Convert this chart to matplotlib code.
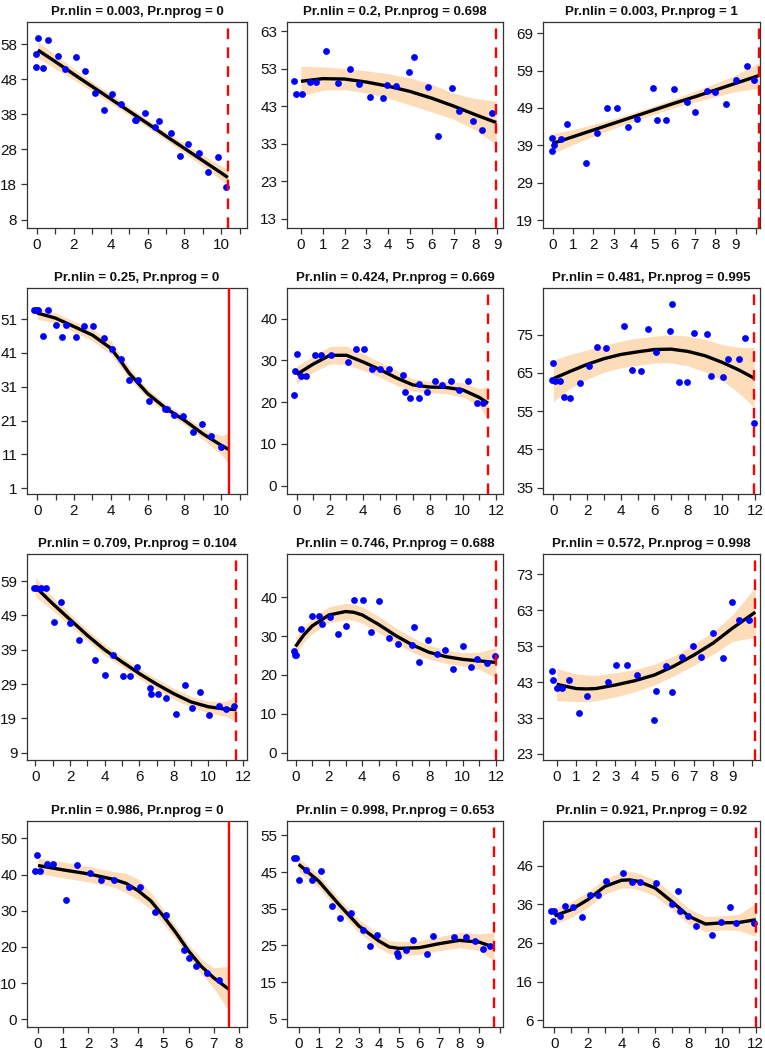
import matplotlib
matplotlib.use("Agg")
import matplotlib.pyplot as plt

# ---- data ----
titles = ["Pr.nlin = 0.003, Pr.nprog = 0", "Pr.nlin = 0.2, Pr.nprog = 0.698",
          "Pr.nlin = 0.003, Pr.nprog = 1", "Pr.nlin = 0.25, Pr.nprog = 0",
          "Pr.nlin = 0.424, Pr.nprog = 0.669", "Pr.nlin = 0.481, Pr.nprog = 0.995",
          "Pr.nlin = 0.709, Pr.nprog = 0.104", "Pr.nlin = 0.746, Pr.nprog = 0.688",
          "Pr.nlin = 0.572, Pr.nprog = 0.998", "Pr.nlin = 0.986, Pr.nprog = 0",
          "Pr.nlin = 0.998, Pr.nprog = 0.653", "Pr.nlin = 0.921, Pr.nprog = 0.92"]

# panel 1
x1 = [-0.05, 0.05, -0.05, 0.31, 0.58, 1.12, 1.5, 2.13, 2.6, 3.13, 3.62, 4.1, 4.54, 5.32, 5.36,
      5.84, 6.38, 6.64, 7.25, 7.76, 8.19, 8.79, 9.29, 9.84, 10.27]
y1 = [55.3, 59.6, 51.5, 51.3, 59.3, 54.7, 50.8, 54.2, 50.4, 44.0, 39.1, 43.7, 41.0, 36.5, 36.5,
      38.4, 34.4, 36.2, 32.6, 26.2, 29.6, 27.0, 21.6, 25.9, 17.4]
fx1 = [0.05, 1, 2, 3, 4, 5, 6, 7, 8, 9, 10, 10.36]
fy1 = [56.3, 53.0, 49.4, 45.9, 42.4, 38.9, 35.4, 31.8, 28.3, 24.8, 21.3, 20.0]
hi1 = [58.6, 55.0, 51.0, 47.3, 43.7, 40.1, 36.5, 33.0, 29.7, 26.4, 23.3, 22.3]
lo1 = [54.0, 51.0, 47.8, 44.5, 41.1, 37.7, 34.3, 30.6, 26.9, 23.2, 19.3, 17.7]

# panel 2
x2 = [-0.3, -0.21, 0.05, 0.4, 0.7, 1.17, 1.68, 2.24, 2.68, 3.17, 3.78, 3.93, 4.38, 4.95, 5.2,
      5.85, 6.27, 6.92, 7.24, 7.88, 8.32, 8.78]
y2 = [49.8, 46.2, 46.2, 49.5, 49.4, 57.6, 49.1, 52.8, 48.9, 45.4, 45.2, 48.5, 48.4, 52.0, 56.2,
      48.0, 35.0, 47.7, 41.6, 38.9, 36.6, 41.2]
fx2 = [0, 1, 2, 3, 4, 5, 6, 7, 8, 8.96]
fy2 = [49.6, 50.3, 50.2, 49.4, 48.3, 46.9, 45.1, 43.0, 40.7, 38.6]
hi2 = [53.6, 53.4, 53.0, 52.4, 51.6, 50.5, 48.8, 46.4, 45.0, 44.3]
lo2 = [45.7, 47.2, 47.4, 46.5, 45.1, 43.3, 41.4, 39.5, 36.6, 32.8]

# panel 3
x3 = [-0.02, -0.02, 0.08, 0.43, 0.7, 1.65, 2.18, 2.7, 3.17, 3.7, 4.17, 4.95, 5.13, 5.6, 5.97,
      6.63, 7.02, 7.58, 7.97, 8.52, 9.0, 9.58, 9.9]
y3 = [40.9, 37.4, 39.0, 40.7, 44.7, 34.2, 42.2, 49.0, 48.9, 43.9, 46.1, 54.3, 45.8, 45.7, 54.0,
      50.7, 47.9, 53.6, 53.4, 50.2, 56.5, 60.2, 56.4]
fx3 = [0, 1, 2, 3, 4, 5, 6, 7, 8, 9, 10, 10.15]
fy3 = [39.5, 41.3, 43.1, 44.9, 46.7, 48.5, 50.3, 52.0, 53.8, 55.6, 57.4, 57.7]
hi3 = [42.2, 43.2, 44.6, 46.1, 47.8, 49.6, 51.5, 53.5, 55.6, 57.8, 60.6, 61.4]
lo3 = [36.8, 39.2, 41.4, 43.5, 45.5, 47.3, 49.1, 50.6, 52.0, 53.4, 54.2, 54.0]

# panel 4
x4 = [-0.15, -0.04, 0.05, 0.31, 0.58, 1.04, 1.37, 1.55, 2.12, 2.54, 3.01, 3.61, 4.07, 4.53, 5.0,
      5.49, 6.09, 6.95, 7.06, 7.46, 7.92, 8.47, 8.96, 9.45, 10.0]
y4 = [53.8, 53.8, 53.8, 45.9, 53.7, 49.4, 45.7, 49.3, 45.6, 49.0, 49.0, 45.3, 42.1, 39.3, 32.9,
      32.9, 26.8, 24.5, 24.5, 22.6, 22.5, 17.5, 20.0, 16.4, 13.3]
fx4 = [0, 1, 2, 3, 4, 4.5, 5, 5.5, 6, 7, 8, 9, 10, 10.4]
fy4 = [52.8, 51.3, 48.8, 46.3, 42.4, 38.9, 35.0, 32.0, 29.0, 24.6, 21.1, 17.1, 13.7, 12.5]
hi4 = [54.6, 52.8, 50.4, 48.0, 44.6, 40.8, 36.8, 33.5, 30.4, 25.9, 22.4, 18.7, 16.5, 17.4]
lo4 = [51.0, 49.8, 47.2, 44.6, 40.6, 37.0, 33.2, 30.5, 27.6, 23.3, 19.8, 15.5, 11.0, 8.2]

# panel 5
x5 = [-0.14, -0.1, 0.04, 0.26, 0.54, 1.11, 1.47, 2.05, 3.08, 3.56, 4.04, 4.54, 5.0, 5.55, 6.43,
      6.51, 6.8, 7.34, 7.34, 7.82, 8.32, 8.74, 9.27, 9.75, 10.31, 10.83, 11.24]
y5 = [21.7, 27.4, 31.5, 26.2, 26.2, 31.3, 31.3, 31.2, 29.6, 32.6, 32.6, 28.0, 27.9, 27.8, 26.5,
      22.5, 21.0, 24.3, 21.0, 22.4, 25.1, 24.0, 25.1, 23.0, 25.0, 19.8, 19.8]
fx5 = [0, 1, 2, 3, 4, 5, 6, 7, 8, 9, 10, 11, 11.52]
fy5 = [26.6, 29.1, 31.2, 31.2, 29.6, 27.8, 25.8, 24.1, 23.6, 23.5, 22.9, 21.1, 19.7]
hi5 = [28.6, 31.0, 33.3, 33.4, 31.6, 29.6, 27.6, 25.6, 25.0, 25.0, 24.6, 23.2, 23.8]
lo5 = [24.4, 27.2, 29.1, 29.0, 27.6, 26.0, 24.0, 22.6, 22.2, 22.0, 21.2, 19.0, 15.8]

# panel 6
x6 = [-0.06, -0.02, 0.1, 0.38, 0.6, 1.01, 1.6, 2.12, 2.6, 3.13, 4.17, 4.68, 5.2, 5.65, 6.09,
      6.94, 7.06, 7.48, 7.92, 8.37, 9.11, 9.38, 10.1, 10.4, 11.01, 11.41, 11.9]
y6 = [63.0, 67.6, 62.9, 62.9, 58.7, 58.5, 62.3, 66.7, 71.8, 71.5, 77.2, 65.7, 65.6, 76.5, 70.4,
      76.0, 82.9, 62.6, 62.5, 75.4, 75.1, 64.1, 63.9, 68.7, 68.6, 74.2, 51.9]
fx6 = [0, 1, 2, 3, 4, 5, 6, 7, 8, 9, 10, 11, 11.94]
fy6 = [63.5, 65.4, 67.2, 68.7, 69.8, 70.5, 71.1, 71.2, 70.6, 69.5, 67.8, 65.8, 63.6]
hi6 = [68.4, 69.8, 71.0, 72.2, 73.3, 74.1, 74.6, 74.9, 74.6, 73.8, 72.4, 71.7, 71.6]
lo6 = [57.5, 61.0, 63.3, 65.2, 66.3, 66.9, 67.6, 67.6, 66.8, 65.3, 63.1, 59.8, 56.0]

# panel 7
x7 = [-0.1, 0.04, 0.31, 0.6, 1.07, 1.5, 1.98, 2.54, 3.46, 4.0, 4.5, 5.05, 5.49, 5.88, 6.64,
      6.7, 7.09, 7.57, 8.1, 8.62, 9.05, 9.53, 10.04, 10.62, 11.03, 11.48]
y7 = [57.1, 57.1, 57.0, 56.9, 47.1, 53.0, 46.9, 41.8, 36.1, 31.7, 37.6, 31.5, 31.5, 34.1, 28.0,
      26.0, 26.0, 25.1, 20.2, 28.8, 22.0, 26.6, 20.1, 22.6, 21.8, 22.5]
fx7 = [0, 1, 2, 3, 4, 5, 6, 7, 8, 9, 10, 11, 11.61]
fy7 = [57.3, 52.4, 47.8, 43.2, 39.0, 35.5, 32.1, 29.0, 26.2, 23.8, 22.4, 21.7, 21.6]
hi7 = [60.0, 54.4, 49.5, 44.8, 40.6, 37.0, 33.6, 30.6, 27.8, 25.4, 24.0, 24.0, 25.5]
lo7 = [54.5, 50.4, 46.1, 41.6, 37.4, 34.0, 30.6, 27.4, 24.6, 22.2, 20.6, 19.6, 18.0]

# panel 8
x8 = [-0.08, -0.06, 0.04, 0.32, 1.01, 1.43, 1.58, 2.08, 2.53, 3.05, 3.49, 4.06, 4.5, 4.99, 5.58,
      6.12, 6.97, 7.11, 7.41, 7.94, 8.48, 8.97, 9.41, 10.0, 10.48, 10.89, 11.44, 11.92]
y8 = [26.2, 25.2, 25.1, 31.7, 35.2, 35.1, 33.2, 35.0, 30.6, 32.5, 39.2, 39.2, 31.1, 39.1, 29.4,
      28.0, 27.8, 32.4, 23.3, 29.1, 25.3, 26.4, 21.4, 27.4, 22.1, 24.0, 23.0, 24.9]
fx8 = [0, 0.5, 1, 2, 3, 3.5, 4, 5, 6, 7, 8, 9, 10, 11, 12]
fy8 = [27.3, 30.3, 32.6, 35.4, 36.3, 36.1, 35.4, 32.9, 30.1, 27.7, 25.8, 24.7, 24.0, 23.6, 23.2]
hi8 = [29.6, 32.2, 34.6, 37.5, 38.4, 38.2, 37.5, 35.0, 32.1, 29.6, 27.6, 26.4, 25.7, 25.8, 27.0]
lo8 = [25.0, 28.4, 30.6, 33.4, 34.2, 34.0, 33.3, 30.8, 28.1, 25.8, 24.0, 23.0, 22.3, 21.4, 19.3]

# panel 9
x9 = [-0.24, -0.19, 0.02, 0.29, 0.63, 1.14, 1.53, 2.6, 3.04, 3.61, 4.1, 4.97, 5.09, 5.58, 5.88,
      6.38, 6.99, 7.36, 8.0, 8.52, 8.94, 9.34, 9.85]
y9 = [46.1, 43.6, 41.5, 41.4, 43.5, 34.4, 39.2, 43.1, 47.9, 47.8, 45.0, 32.4, 40.5, 47.4, 40.3,
      50.1, 53.2, 49.9, 56.6, 49.7, 65.2, 60.4, 60.2]
fx9 = [0, 1, 1.5, 2, 3, 4, 5, 6, 7, 8, 9, 10.15]
fy9 = [42.4, 41.2, 41.1, 41.2, 42.2, 43.4, 45.0, 47.5, 50.5, 53.9, 58.1, 62.5]
hi9 = [46.8, 45.3, 45.0, 44.9, 45.6, 46.5, 48.0, 50.3, 53.5, 57.0, 61.8, 69.5]
lo9 = [37.8, 37.6, 37.6, 37.8, 38.9, 40.3, 42.2, 44.8, 47.6, 50.8, 54.4, 55.5]

# panel 10
x10 = [-0.12, -0.05, 0.08, 0.35, 0.6, 1.12, 1.57, 2.07, 2.51, 3.03, 3.61, 4.07, 4.65, 5.09,
       5.81, 6.0, 6.29, 6.73, 7.23]
y10 = [41.0, 45.3, 41.0, 42.9, 42.9, 32.9, 42.6, 40.5, 38.6, 38.5, 36.6, 36.6, 29.8, 28.8,
       19.2, 16.9, 14.7, 12.9, 11.0]
fx10 = [0, 1, 2, 3, 3.5, 4, 4.5, 5, 5.5, 6, 6.5, 7, 7.61]
fy10 = [42.5, 41.3, 40.2, 38.7, 37.6, 35.5, 32.7, 28.5, 23.9, 18.9, 14.7, 11.5, 8.3]
hi10 = [44.6, 43.5, 42.3, 40.8, 40.4, 38.7, 35.0, 30.4, 25.7, 20.7, 16.7, 14.3, 14.6]
lo10 = [40.3, 39.1, 38.0, 36.6, 35.0, 33.0, 30.3, 26.4, 22.0, 17.1, 12.6, 8.7, 2.3]

# panel 11
x11 = [-0.22, -0.12, 0.02, 0.35, 0.67, 1.1, 1.68, 2.05, 2.6, 3.18, 3.55, 3.9, 4.87, 4.93, 5.32,
       5.7, 6.38, 6.7, 7.75, 8.32, 8.78, 9.15, 9.5]
y11 = [48.9, 48.9, 42.9, 45.5, 42.7, 45.4, 35.8, 32.4, 33.9, 29.3, 24.9, 27.9, 22.9, 22.0, 23.8,
       26.5, 22.7, 27.5, 27.3, 27.3, 26.1, 24.0, 24.9]
fx11 = [0, 1, 2, 3, 4, 4.5, 5, 6, 7, 8, 9, 9.72]
fy11 = [47.1, 42.5, 36.2, 30.3, 26.2, 24.6, 24.2, 24.4, 25.5, 26.4, 25.9, 24.5]
hi11 = [48.9, 44.2, 37.9, 32.1, 28.0, 26.4, 26.1, 26.3, 27.4, 28.6, 28.2, 28.6]
lo11 = [45.1, 40.7, 34.4, 28.5, 24.3, 22.8, 22.4, 22.5, 23.6, 24.4, 23.6, 20.7]

# panel 12
x12 = [-0.18, 0.0, -0.06, 0.34, 0.66, 1.11, 1.63, 2.15, 2.62, 3.08, 4.06, 4.63, 5.09, 6.04,
       6.98, 7.34, 7.46, 7.97, 8.41, 9.38, 9.94, 10.44, 10.84, 11.91]
y12 = [34.2, 34.2, 31.8, 32.9, 35.5, 35.4, 32.6, 38.4, 38.4, 42.1, 44.0, 41.8, 41.7, 41.5,
       36.0, 39.3, 34.3, 32.9, 30.4, 28.1, 31.3, 35.4, 31.2, 31.1]
fx12 = [0, 1, 2, 3, 4, 4.5, 5, 6, 7, 8, 9, 10, 11, 12]
fy12 = [33.0, 34.6, 37.2, 40.6, 42.2, 42.3, 41.9, 40.2, 36.7, 32.9, 30.9, 31.2, 31.3, 32.0]
hi12 = [35.0, 36.6, 39.2, 42.6, 44.3, 44.4, 44.0, 42.3, 38.8, 34.9, 32.8, 33.0, 33.4, 36.3]
lo12 = [30.8, 32.6, 35.2, 38.6, 40.2, 40.2, 39.8, 38.1, 34.6, 30.9, 28.9, 29.4, 29.2, 27.7]

# vertical red line position and style per panel
vline_x = [10.36, 8.96, 10.15, 10.4, 11.52, 11.94, 11.61, 12.02, 10.15, 7.61, 9.72, 12.0]
vline_solid = [False, False, False, True, False, False, False, False, False, True, False, False]

# axis settings per panel
xlims = [(-0.54, 11.4), (-0.64, 9.27), (-0.47, 10.2), (-0.55, 11.4), (-0.58, 12.42),
         (-0.62, 12.28), (-0.49, 12.23), (-0.51, 12.42), (-0.7, 10.39), (-0.44, 8.33),
         (-0.58, 10.17), (-0.68, 12.25)]
ylims = [(5.6, 64.3), (10.5, 65.4), (16.9, 72.0), (-0.7, 60.2), (-2.0, 47.3), (33.3, 87.2),
         (6.9, 66.9), (-1.9, 51.1), (21.3, 78.7), (-2.1, 54.8), (2.8, 58.9), (4.3, 57.5)]
xtick_max = [11, 9, 10, 11, 12, 12, 12, 12, 10, 8, 10, 12]
xlabel_step = [2, 1, 1, 2, 2, 2, 2, 2, 1, 1, 1, 2]
xlabel_max = [10, 9, 9, 10, 12, 12, 12, 12, 9, 8, 9, 12]
ytick_start = [8, 13, 19, 1, 0, 35, 9, 0, 23, 0, 5, 6]
ytick_stop = [58, 63, 69, 51, 40, 75, 59, 40, 73, 50, 55, 46]

xs = [x1, x2, x3, x4, x5, x6, x7, x8, x9, x10, x11, x12]
ys = [y1, y2, y3, y4, y5, y6, y7, y8, y9, y10, y11, y12]
fxs = [fx1, fx2, fx3, fx4, fx5, fx6, fx7, fx8, fx9, fx10, fx11, fx12]
fys = [fy1, fy2, fy3, fy4, fy5, fy6, fy7, fy8, fy9, fy10, fy11, fy12]
his = [hi1, hi2, hi3, hi4, hi5, hi6, hi7, hi8, hi9, hi10, hi11, hi12]
los = [lo1, lo2, lo3, lo4, lo5, lo6, lo7, lo8, lo9, lo10, lo11, lo12]

plt.rcParams['font.family'] = ['Liberation Sans', 'DejaVu Sans']

W, H = 765, 1050
fig = plt.figure(figsize=(W / 100, H / 100), dpi=100)

col_left = [27, 287, 543]
col_w = [220, 216, 217]
row_top = [22, 288, 554, 821]
row_h = 206

for i in range(12):
    r, c = divmod(i, 3)
    ax = fig.add_axes([col_left[c] / W, 1 - (row_top[r] + row_h) / H, col_w[c] / W, row_h / H])

    ax.fill_between(fxs[i], los[i], his[i], color='#FDDCB9', lw=0, zorder=1)
    ax.plot(fxs[i], fys[i], color='black', lw=2.4, zorder=3, solid_capstyle='butt')
    ax.scatter(xs[i], ys[i], s=24, color='#0000FF', lw=0, zorder=4)

    if vline_solid[i]:
        ax.axvline(vline_x[i], color='#FF0000', lw=1.7, zorder=5)
    else:
        ax.axvline(vline_x[i], color='#FF0000', lw=1.7, ls=(0, (4.5, 3.5)), zorder=5)

    ax.set_xlim(*xlims[i])
    ax.set_ylim(*ylims[i])

    xt = list(range(0, xtick_max[i] + 1))
    xl = [str(t) if (t % xlabel_step[i] == 0 and t <= xlabel_max[i]) else '' for t in xt]
    ax.set_xticks(xt)
    ax.set_xticklabels(xl)
    yt = list(range(ytick_start[i], ytick_stop[i] + 1, 10))
    ax.set_yticks(yt)
    ax.set_yticklabels([str(t) for t in yt])

    ax.tick_params(direction='out', length=4.5, width=0.9, colors='#333333',
                   labelcolor='#111111', labelsize=11, pad=2.5)
    for s in ax.spines.values():
        s.set_color('#333333')
        s.set_linewidth(0.9)

    ax.set_title(titles[i], fontsize=9.5, fontweight='bold', pad=5, color='#111111')

fig.savefig('out.png', dpi=100)
